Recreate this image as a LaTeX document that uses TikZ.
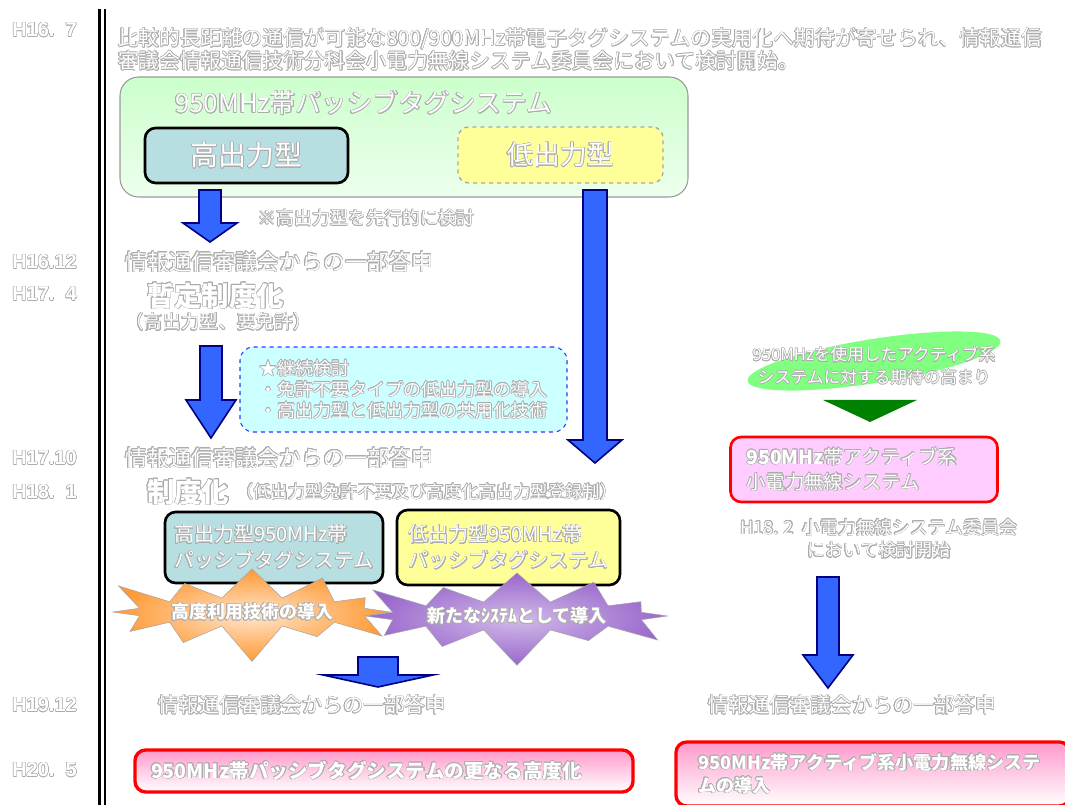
\documentclass[tikz,border=0pt]{standalone}
\usepackage{fontspec}
\setmainfont{Noto Sans CJK JP}
\newfontfamily\datefont{Liberation Sans}
\usepackage[copies]{contour}
\usetikzlibrary{shapes.geometric,shapes.symbols}
\contourlength{0.4pt}
\contournumber{16}
\newcommand{\olt}[1]{\contour{gray!65}{#1}}
\newcommand{\pxu}{0.75pt}
\definecolor{hiblue}{HTML}{B7DEE0}
\definecolor{loyel}{HTML}{FFFF99}
\definecolor{arrblue}{HTML}{3366FF}
\definecolor{arrnavy}{HTML}{000080}
\definecolor{contcyan}{HTML}{CCFFFF}
\definecolor{actpink}{HTML}{FFCCFF}
\definecolor{ellgreen}{HTML}{80FF80}
\definecolor{tridark}{HTML}{008000}
\definecolor{burstorange}{HTML}{FF9933}
\definecolor{burstpurple}{HTML}{9966CC}
\definecolor{redpink}{HTML}{FF99CC}
\begin{document}
\begin{tikzpicture}[x=0.75pt,y=-0.75pt,
  txt/.style={text=white,inner sep=0pt},
  body/.style={txt,anchor=west,font=\fontsize{15.5pt}{18pt}\selectfont},
  datelbl/.style={txt,anchor=west,font=\datefont\bfseries\fontsize{15pt}{18pt}\selectfont},
  tagbox/.style={rounded corners=8pt,line width=2pt,draw=black,text=white,font=\fontsize{21pt}{24pt}\selectfont},
  sysbox/.style={rounded corners=8pt,line width=2pt,draw=black,text=white,align=left,font=\fontsize{15pt}{19.5pt}\selectfont},
  redbox/.style={rounded corners=8pt,line width=2.5pt,draw=red,top color=redpink,bottom color=white,text=white,align=left,font=\bfseries\fontsize{14.7pt}{17.25pt}\selectfont},
  burst/.style={starburst,starburst points=12,starburst point height=30pt,draw=gray!70,text=white,inner sep=1pt,font=\bfseries\fontsize{13.5pt}{16pt}\selectfont},
  barrow/.style={fill=arrblue,draw=arrnavy,line width=1.2pt}]
\useasboundingbox (0,0) rectangle (1065,805);
% time line and dates
\draw[line width=2pt] (99.5,9) -- (99.5,805) (105,9) -- (105,805);
\foreach \dt/\yy [count=\i] in {H16.\ \ 7/30,H16.12/262,H17.\ \ 4/294,H17.10/458,H18.\ \ 1/492,H19.12/705,H20.\ \ 5/770}
  \node[datelbl] (date\i) at (12,\yy) {\olt{\dt}};
\node[body] (intro1) at (118,39) {\olt{比較的長距離の通信が可能な800/900MHz帯電子タグシステムの実用化へ期待が寄せられ、情報通信}};
\node[body] (intro2) at (118,61) {\olt{審議会情報通信技術分科会小電力無線システム委員会において検討開始。}};
% passive tag system
\node[rounded corners=14pt,draw=gray!80,line width=0.8pt,top color=green!20,bottom color=green!7,minimum width=568*\pxu,minimum height=120*\pxu] (passive) at (404,137) {};
\node[body,font=\fontsize{19.3pt}{22pt}\selectfont] (passivettl) at (175,103) {\olt{950MHz帯パッシブタグシステム}};
\node[tagbox,fill=hiblue,minimum width=203*\pxu,minimum height=55*\pxu] (high) at (246.5,155.5) {\olt{高出力型}};
\node[tagbox,fill=loyel,draw=gray!70,line width=1pt,dashed,minimum width=205*\pxu,minimum height=56*\pxu,font=\fontsize{20pt}{24pt}\selectfont] (low) at (560.5,155) {\olt{低出力型}};
% block arrows
\foreach \cx/\ta/\sw/\hw/\hy/\tb in {210/190/11/27/223/242,595/190/12/27/440/463,211/346/11/25/400/438,378/657/20/55/675/687,828/577/11/25/655/688}
  \draw[barrow] (\cx-\sw,\ta) -- (\cx+\sw,\ta) -- (\cx+\sw,\hy) -- (\cx+\hw,\hy) -- (\cx,\tb) -- (\cx-\hw,\hy) -- (\cx-\sw,\hy) -- cycle;
\node[body,font=\fontsize{13.5pt}{16pt}\selectfont] (note) at (258,218) {\olt{※高出力型を先行的に検討}};
% provisional
\node[body,font=\fontsize{16.5pt}{19pt}\selectfont] (ans1) at (125,262) {\olt{情報通信審議会からの一部答申}};
\node[body,font=\bfseries\fontsize{20.5pt}{24pt}\selectfont] (prov) at (147,296) {\olt{暫定制度化}};
\node[body,font=\fontsize{14pt}{17pt}\selectfont] (provnote) at (125,322) {\olt{（高出力型、要免許）}};
\node[rounded corners=10pt,draw=blue!80,dashed,line width=0.8pt,fill=contcyan,minimum width=327*\pxu,minimum height=85*\pxu,align=left,text=white,font=\fontsize{13.5pt}{15.75pt}\selectfont] (cont) at (403.5,389.5) {\olt{★継続検討}\\\olt{・免許不要タイプの低出力型の導入}\\\olt{・高出力型と低出力型の共用化技術}};
% formal
\node[body,font=\fontsize{16.5pt}{19pt}\selectfont] (ans2) at (125,458) {\olt{情報通信審議会からの一部答申}};
\node[body,font=\bfseries\fontsize{20.5pt}{24pt}\selectfont] (formal) at (147,492) {\olt{制度化}};
\node[body,font=\fontsize{13pt}{16pt}\selectfont] (formalnote) at (236,492) {\olt{（低出力型免許不要及び高度化高出力型登録制）}};
\node[sysbox,fill=hiblue,minimum width=218*\pxu,minimum height=71*\pxu] (highsys) at (274,547.5) {\olt{高出力型950MHz帯}\\\olt{パッシブタグシステム}};
\node[sysbox,fill=loyel,minimum width=223*\pxu,minimum height=75*\pxu] (lowsys) at (508.5,547.5) {\olt{低出力型950MHz帯}\\\olt{パッシブタグシステム}};
\node[burst,inner color=burstorange!25,outer color=burstorange,minimum width=158pt,minimum height=34pt] (hiburst) at (252,612) {\olt{高度利用技術の導入}};
\node[burst,inner color=burstpurple!45,outer color=burstpurple,minimum width=172pt,minimum height=34pt] (loburst) at (517,616) {\olt{新たなｼｽﾃﾑとして導入}};
\node[body,font=\fontsize{15.4pt}{18pt}\selectfont] (ans3) at (158,705) {\olt{情報通信審議会からの一部答申}};
\node[redbox,minimum width=498*\pxu,minimum height=42*\pxu,text width=466*\pxu] (adv) at (384,771) {\olt{950MHz帯パッシブタグシステムの更なる高度化}};
% active system
\node[ellipse,fill=ellgreen,rotate=9,minimum width=256*\pxu,minimum height=44*\pxu] (hope) at (874,361) {};
\node[txt,align=center,font=\fontsize{12.5pt}{17pt}\selectfont] (hopetxt) at (874,366) {\olt{950MHzを使用したアクティブ系}\\\olt{システムに対する期待の高まり}};
\fill[tridark] (823,400) -- (917,400) -- (870,422) -- cycle;
\node[rounded corners=8pt,draw=red,line width=2pt,fill=actpink,minimum width=267*\pxu,minimum height=65*\pxu,text width=235*\pxu,align=left,text=white,font=\fontsize{14.5pt}{18.75pt}\selectfont] (active) at (864,469.5) {\olt{{\bfseries 950MHz}帯アクティブ系}\\\olt{小電力無線システム}};
\node[txt,align=center,font=\fontsize{13.5pt}{17pt}\selectfont] (h18) at (879,539) {\olt{H18. 2\ \ 小電力無線システム委員会}\\\olt{において検討開始}};
\node[body,font=\fontsize{15.4pt}{18pt}\selectfont] (ans4) at (708,705) {\olt{情報通信審議会からの一部答申}};
\node[redbox,minimum width=394*\pxu,minimum height=64*\pxu,text width=350*\pxu,font=\bfseries\fontsize{13.6pt}{17.25pt}\selectfont] (actintro) at (873,774) {\olt{950MHz帯アクティブ系小電力無線システ}\\\olt{ムの導入}};
\end{tikzpicture}
\end{document}
